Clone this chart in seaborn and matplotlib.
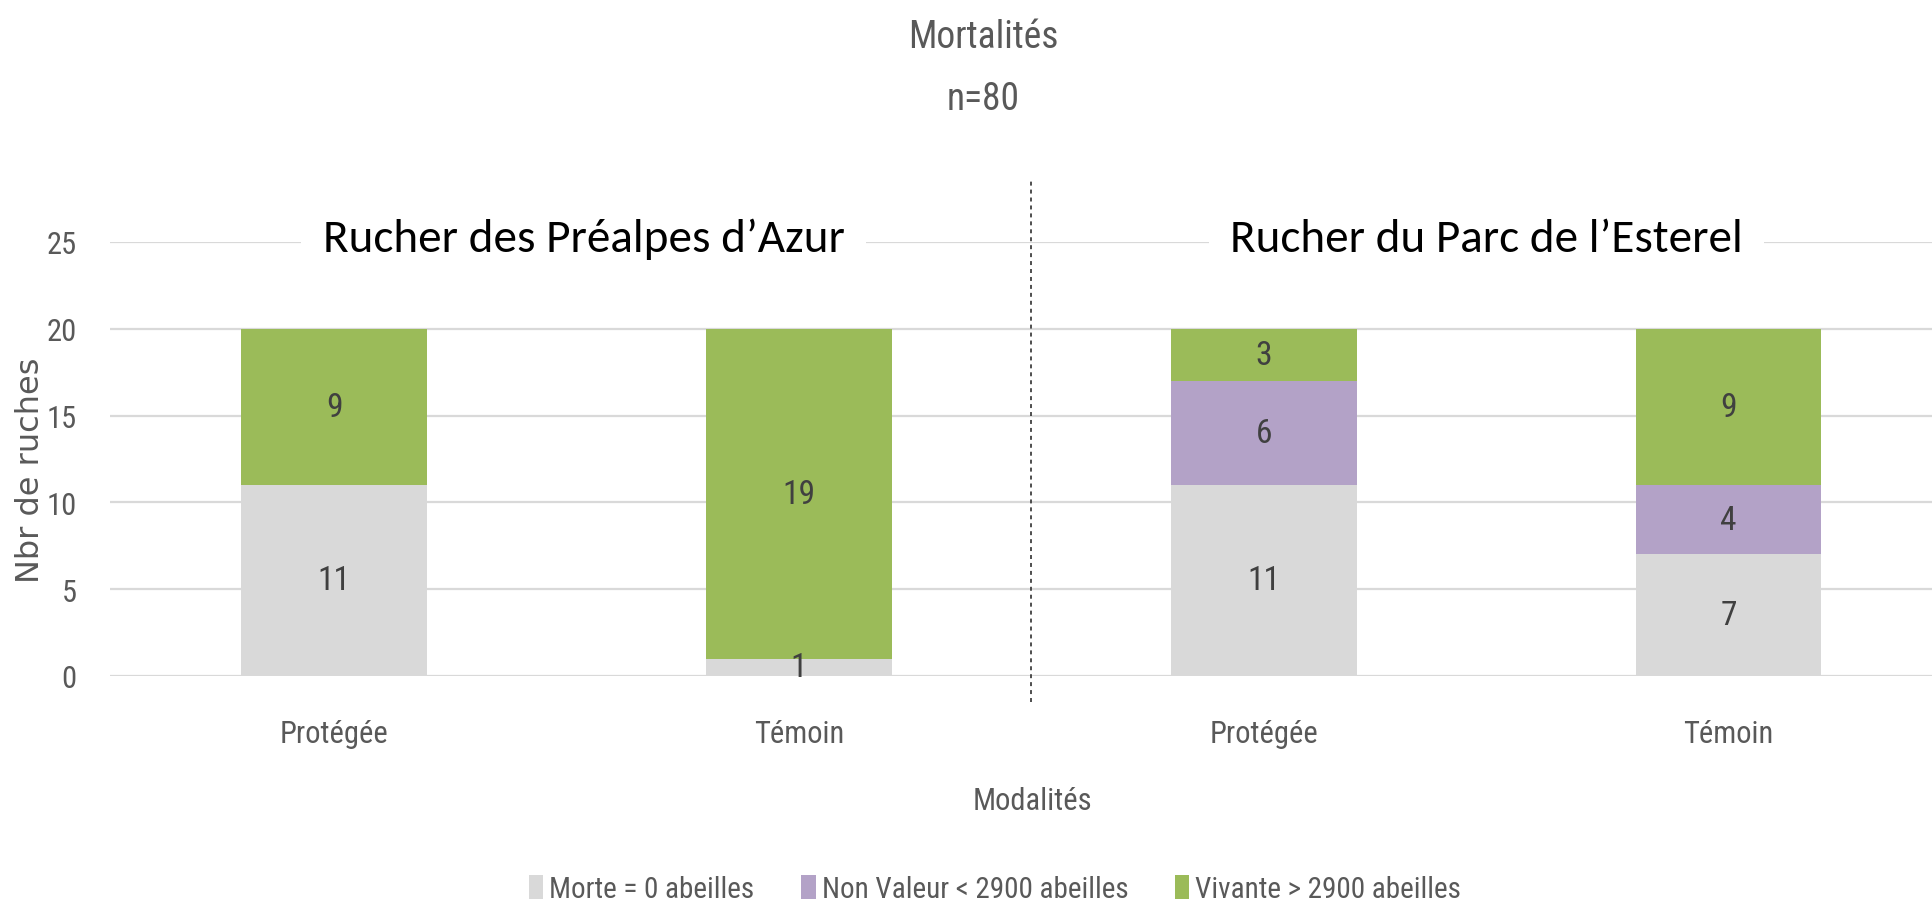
# Mortalités des ruches - stacked bars per modalité
import pandas as pd
import seaborn as sns
import matplotlib.pyplot as plt
from matplotlib.patches import Patch

sites = ["Rucher des Préalpes d’Azur", "Rucher des Préalpes d’Azur",
         "Rucher du Parc de l’Esterel", "Rucher du Parc de l’Esterel"]
modalites = ["Protégée", "Témoin", "Protégée", "Témoin"]
morte = [11, 1, 11, 7]
non_valeur = [0, 0, 6, 4]
vivante = [9, 19, 3, 9]

series_names = ["Morte = 0 abeilles", "Non Valeur < 2900 abeilles", "Vivante > 2900 abeilles"]
colors = ["#D9D9D9", "#B3A2C7", "#9BBB59"]
grey_txt = "#595959"
narrow = ["Roboto Condensed", "DejaVu Sans"]

df = pd.DataFrame(dict(site=sites, modalite=modalites, morte=morte,
                       non_valeur=non_valeur, vivante=vivante))
df["key"] = [f"{i}-{m}" for i, m in enumerate(df.modalite)]
df["c1"] = df.morte
df["c2"] = df.morte + df.non_valeur
df["c3"] = df.c2 + df.vivante

sns.set_style("white")
plt.rcParams["font.family"] = narrow

fig = plt.figure(figsize=(19.33, 9.12), dpi=100)
ax = fig.add_axes([110 / 1933, 0.2577, 1823 / 1933, 0.4759])

order = list(df.key)
# draw cumulative totals, largest first so the lower segments sit on top
for col, color in zip(["c3", "c2", "c1"], colors[::-1]):
    sns.barplot(data=df, x="key", y=col, order=order, color=color,
                width=0.4, saturation=1, linewidth=0, ax=ax, zorder=2)

# segment labels
for i, row in df.iterrows():
    bottom = 0
    for val in [row.morte, row.non_valeur, row.vivante]:
        if val > 0:
            ax.text(i, bottom + val / 2, str(val), ha="center", va="center",
                    fontsize=24, color="#404040", zorder=4)
        bottom += val

ax.set_ylim(0, 25)
ax.set_yticks(range(0, 26, 5))
ax.set_xlim(-0.482, 3.44)
ax.set_xticks(range(4))
ax.set_xticklabels(modalites)
ax.tick_params(axis="x", length=0, pad=31, labelsize=22, labelcolor=grey_txt)
ax.tick_params(axis="y", length=0, pad=24, labelsize=22, labelcolor=grey_txt)
ax.set_xlabel("")
ax.set_ylabel("")
ax.yaxis.grid(True, color="#D9D9D9", lw=1.6, zorder=0)
ax.set_axisbelow(True)
for s in ax.spines.values():
    s.set_visible(False)

# separator between the two apiaries
ax.plot([1.5, 1.5], [-1.5, 28.7], color="#404040", lw=1.3,
        linestyle=(0, (2.2, 2.2)), clip_on=False, zorder=3)

# apiary names
for xpos, name in [(0.537, sites[0]), (2.48, sites[2])]:
    ax.text(xpos, 25.2, name, ha="center", va="center", fontsize=34,
            family=["Carlito", "Liberation Sans", "DejaVu Sans"], color="black",
            bbox=dict(boxstyle="square,pad=0.45", fc="white", ec="none"),
            zorder=5, clip_on=False)

fig.text(983 / 1933, 1 - 37 / 912, "Mortalités", ha="center", va="center",
         fontsize=27, color=grey_txt)
fig.text(983 / 1933, 1 - 99 / 912, "n=80", ha="center", va="center",
         fontsize=27, color=grey_txt)
fig.text(1032 / 1933, 1 - 802 / 912, "Modalités", ha="center", va="center",
         fontsize=22, color=grey_txt)
fig.text(31 / 1933, 1 - 470 / 912, "Nbr de ruches", ha="center", va="center",
         rotation=90, fontsize=23, color=grey_txt, family=["DejaVu Sans"])

handles = [Patch(facecolor=c, edgecolor="none") for c in colors]
fig.legend(handles, series_names, loc="center", ncol=3, frameon=False,
           bbox_to_anchor=(995 / 1933, 1 - 890 / 912), fontsize=21,
           handlelength=0.5, handleheight=0.9, handletextpad=0.2,
           columnspacing=1.6, labelcolor=grey_txt)

fig.savefig("out.png", dpi=100)
